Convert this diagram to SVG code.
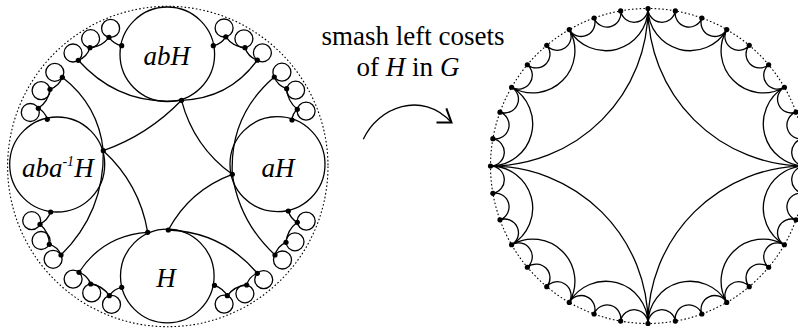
<svg xmlns="http://www.w3.org/2000/svg" width="798" height="330" viewBox="0 0 798 330">
<style>
.bd{fill:none;stroke:#000;stroke-width:1.1;stroke-dasharray:1.6 2.2}
.ln{fill:none;stroke:#000;stroke-width:1.3}
.cs{fill:none;stroke:#000;stroke-width:1.3}
.dt{fill:#000}
.lb{font-family:"Liberation Serif","Times New Roman",serif;font-style:italic;font-size:27px;fill:#000}
.cap{font-family:"Liberation Serif","Times New Roman",serif;font-size:27px;fill:#000}
</style>
<defs>
<marker id="ah" markerUnits="userSpaceOnUse" viewBox="-16 -12 20 24" markerWidth="20" markerHeight="24" refX="0" refY="0" orient="35" overflow="visible">
<path d="M-12.3,-8.6 L0,0 L-12.3,8.6" fill="none" stroke="#000" stroke-width="2"/>
</marker>
</defs>

<!-- LEFT DISK -->
<circle id="left-boundary" class="bd" cx="167.8" cy="166.5" r="160.2"/>

<g id="left-connectors" class="ln">
<path d="M103.3,150.7 Q148,135 181.5,100.3"/>
<path d="M181.5,100.3 Q193.8,146.7 232.3,174.3"/>
<path d="M232.3,174.3 Q189.8,190 168.3,230"/>
<path d="M103.3,150.7 Q139.6,183.9 147.7,232.3"/>
<path d="M78.3,60.3 Q119.8,106.7 181.5,100.3"/>
<path d="M257.3,60.2 Q229.4,98.7 181.5,100.3"/>
<path d="M62.3,77.3 Q98.5,105.2 103.3,150.7"/>
<path d="M274.3,77 Q229.5,115.4 232.3,174.3"/>
<path d="M275,255 Q239.5,222.1 232.3,174.3"/>
<path d="M257.3,273.3 Q222.4,232 168.3,230"/>
<path d="M79,272.3 Q103.3,235.1 147.7,232.3"/>
<path d="M61,255 Q104.4,212 103.3,150.7"/>
<path d="M121.7,45.7 Q113.7,44 109,37.3 Q101.9,46.9 90,47.7 Q87.1,56.7 78.3,60.3"/>
<path d="M47.3,119.3 Q45.1,111.9 38.3,108.3 Q48.4,101.4 50,89.3 Q59,86.2 62.3,77.3"/>
<path d="M213.3,45.7 Q221.3,44 225.8,36.8 Q233.1,46.9 245,47.7 Q247.9,56.7 257.3,60.2"/>
<path d="M292,120 Q292.5,113.6 297.3,109.3 Q287.6,101.3 286.7,88.7 Q277.7,85.8 274.3,77"/>
<path d="M288.3,211 Q290.4,218.5 297.3,222.3 Q287.3,229.8 286,242.3 Q277.5,246 275,255"/>
<path d="M214.5,285.3 Q222.8,288.2 227.3,295.7 Q234.6,286 246.7,285 Q249,276.5 257.3,273.3"/>
<path d="M121.7,287.3 Q113.8,289 109.3,295.7 Q102.7,285.6 90.7,284 Q87.7,275.3 79,272.3"/>
<path d="M50.7,212 Q47.6,220.1 40,224.3 Q49.2,232.2 49.3,244.3 Q57.8,246.7 61,255"/>
</g>

<g id="coset-abH">
<circle class="cs" cx="167.3" cy="54.3" r="47.3"/>
<text class="lb" x="166.7" y="65" text-anchor="middle">abH</text>
</g>
<g id="coset-aH">
<circle class="cs" cx="277.5" cy="164.2" r="47.5"/>
<text class="lb" x="278" y="176.7" text-anchor="middle">aH</text>
</g>
<g id="coset-H">
<circle class="cs" cx="167.3" cy="276" r="46.8"/>
<text class="lb" x="166" y="287" text-anchor="middle">H</text>
</g>
<g id="coset-abaH">
<circle class="cs" cx="57.2" cy="164.5" r="47.5"/>
<text class="lb" x="57.8" y="176.7" text-anchor="middle">aba<tspan font-size="14" dy="-11">-1</tspan><tspan dy="11">H</tspan></text>
</g>

<g id="small-cosets" class="cs">
<circle cx="110.6" cy="28.4" r="9"/><circle cx="90.6" cy="38.7" r="9"/><circle cx="73" cy="53" r="9"/>
<circle cx="30.3" cy="112.5" r="9"/><circle cx="41.1" cy="90.6" r="9"/><circle cx="54.8" cy="72.3" r="9"/>
<circle cx="224.1" cy="28" r="9"/><circle cx="243.9" cy="38.8" r="9"/><circle cx="262.4" cy="52.8" r="9"/>
<circle cx="306.1" cy="111.1" r="9"/><circle cx="295.6" cy="90.2" r="9"/><circle cx="281.9" cy="72.2" r="9"/>
<circle cx="306.2" cy="221.1" r="9"/><circle cx="295" cy="241.8" r="9"/><circle cx="282.5" cy="260" r="9"/>
<circle cx="224.1" cy="304.1" r="9"/><circle cx="244.9" cy="293.8" r="9"/><circle cx="263.7" cy="279.7" r="9"/>
<circle cx="111.5" cy="304.4" r="9"/><circle cx="91.7" cy="292.9" r="9"/><circle cx="73.1" cy="279.1" r="9"/>
<circle cx="31.7" cy="220.7" r="9"/><circle cx="41.1" cy="240.5" r="9"/><circle cx="53.1" cy="259.3" r="9"/>
</g>

<g id="left-vertices" class="dt">
<circle cx="103.3" cy="150.7" r="2.6"/><circle cx="181.5" cy="100.3" r="2.6"/><circle cx="232.3" cy="174.3" r="2.6"/>
<circle cx="168.3" cy="230" r="2.6"/><circle cx="147.7" cy="232.3" r="2.6"/>
<circle cx="121.7" cy="45.7" r="2.6"/><circle cx="109" cy="37.3" r="2.6"/><circle cx="90" cy="47.7" r="2.6"/><circle cx="78.3" cy="60.3" r="2.6"/>
<circle cx="47.3" cy="119.3" r="2.6"/><circle cx="38.3" cy="108.3" r="2.6"/><circle cx="50" cy="89.3" r="2.6"/><circle cx="62.3" cy="77.3" r="2.6"/>
<circle cx="213.3" cy="45.7" r="2.6"/><circle cx="225.8" cy="36.8" r="2.6"/><circle cx="245" cy="47.7" r="2.6"/><circle cx="257.3" cy="60.2" r="2.6"/>
<circle cx="292" cy="120" r="2.6"/><circle cx="297.3" cy="109.3" r="2.6"/><circle cx="286.7" cy="88.7" r="2.6"/><circle cx="274.3" cy="77" r="2.6"/>
<circle cx="288.3" cy="211" r="2.6"/><circle cx="297.3" cy="222.3" r="2.6"/><circle cx="286" cy="242.3" r="2.6"/><circle cx="275" cy="255" r="2.6"/>
<circle cx="214.5" cy="285.3" r="2.6"/><circle cx="227.3" cy="295.7" r="2.6"/><circle cx="246.7" cy="285" r="2.6"/><circle cx="257.3" cy="273.3" r="2.6"/>
<circle cx="121.7" cy="287.3" r="2.6"/><circle cx="109.3" cy="295.7" r="2.6"/><circle cx="90.7" cy="284" r="2.6"/><circle cx="79" cy="272.3" r="2.6"/>
<circle cx="50.7" cy="212" r="2.6"/><circle cx="40" cy="224.3" r="2.6"/><circle cx="49.3" cy="244.3" r="2.6"/><circle cx="61" cy="255" r="2.6"/>
</g>

<!-- CAPTION AND ARROW -->
<g id="caption">
<text class="cap" x="413" y="45" text-anchor="middle">smash left cosets</text>
<text class="cap" x="408" y="76" text-anchor="middle">of <tspan font-style="italic">H</tspan> in <tspan font-style="italic">G</tspan></text>
</g>
<g id="arrow-connector">
<path class="ln" stroke-width="2" d="M363.3,139.3 C378,107 422,90 451.5,122.5" marker-end="url(#ah)"/>
</g>

<!-- RIGHT DISK -->
<circle id="right-boundary" class="bd" cx="648" cy="166" r="157.5"/>

<g id="right-connectors" class="ln">
<path d="M805.5,166 A157.5,157.5 0 0 1 648,8.5 A157.5,157.5 0 0 1 490.5,166 A157.5,157.5 0 0 1 648,323.5 A157.5,157.5 0 0 1 805.5,166"/>
<path d="M805.5,166 A42.2,42.2 0 0 1 784.4,87.25 A42.2,42.2 0 0 1 726.75,29.6 A42.2,42.2 0 0 1 648,8.5 A42.2,42.2 0 0 1 569.25,29.6 A42.2,42.2 0 0 1 511.6,87.25 A42.2,42.2 0 0 1 490.5,166 A42.2,42.2 0 0 1 511.6,244.75 A42.2,42.2 0 0 1 569.25,302.4 A42.2,42.2 0 0 1 648,323.5 A42.2,42.2 0 0 1 726.75,302.4 A42.2,42.2 0 0 1 784.4,244.75 A42.2,42.2 0 0 1 805.5,166"/>
<path d="M805.5,166 A13.78,13.78 0 0 1 803.11,138.65 A13.78,13.78 0 0 1 796,112.13 A13.78,13.78 0 0 1 784.4,87.25 A13.78,13.78 0 0 1 768.65,64.76 A13.78,13.78 0 0 1 749.24,45.35 A13.78,13.78 0 0 1 726.75,29.6 A13.78,13.78 0 0 1 701.87,18 A13.78,13.78 0 0 1 675.35,10.89 A13.78,13.78 0 0 1 648,8.5 A13.78,13.78 0 0 1 620.65,10.89 A13.78,13.78 0 0 1 594.13,18 A13.78,13.78 0 0 1 569.25,29.6 A13.78,13.78 0 0 1 546.76,45.35 A13.78,13.78 0 0 1 527.35,64.76 A13.78,13.78 0 0 1 511.6,87.25 A13.78,13.78 0 0 1 500,112.13 A13.78,13.78 0 0 1 492.89,138.65 A13.78,13.78 0 0 1 490.5,166 A13.78,13.78 0 0 1 492.89,193.35 A13.78,13.78 0 0 1 500,219.87 A13.78,13.78 0 0 1 511.6,244.75 A13.78,13.78 0 0 1 527.35,267.24 A13.78,13.78 0 0 1 546.76,286.65 A13.78,13.78 0 0 1 569.25,302.4 A13.78,13.78 0 0 1 594.13,314 A13.78,13.78 0 0 1 620.65,321.11 A13.78,13.78 0 0 1 648,323.5 A13.78,13.78 0 0 1 675.35,321.11 A13.78,13.78 0 0 1 701.87,314 A13.78,13.78 0 0 1 726.75,302.4 A13.78,13.78 0 0 1 749.24,286.65 A13.78,13.78 0 0 1 768.65,267.24 A13.78,13.78 0 0 1 784.4,244.75 A13.78,13.78 0 0 1 796,219.87 A13.78,13.78 0 0 1 803.11,193.35 A13.78,13.78 0 0 1 805.5,166"/>
</g>

<g id="right-vertices" class="dt">
<circle cx="805.5" cy="166" r="2.6"/><circle cx="803.11" cy="138.65" r="2.6"/><circle cx="796" cy="112.13" r="2.6"/><circle cx="784.4" cy="87.25" r="2.6"/>
<circle cx="768.65" cy="64.76" r="2.6"/><circle cx="749.24" cy="45.35" r="2.6"/><circle cx="726.75" cy="29.6" r="2.6"/><circle cx="701.87" cy="18" r="2.6"/>
<circle cx="675.35" cy="10.89" r="2.6"/><circle cx="648" cy="8.5" r="2.6"/><circle cx="620.65" cy="10.89" r="2.6"/><circle cx="594.13" cy="18" r="2.6"/>
<circle cx="569.25" cy="29.6" r="2.6"/><circle cx="546.76" cy="45.35" r="2.6"/><circle cx="527.35" cy="64.76" r="2.6"/><circle cx="511.6" cy="87.25" r="2.6"/>
<circle cx="500" cy="112.13" r="2.6"/><circle cx="492.89" cy="138.65" r="2.6"/><circle cx="490.5" cy="166" r="2.6"/><circle cx="492.89" cy="193.35" r="2.6"/>
<circle cx="500" cy="219.87" r="2.6"/><circle cx="511.6" cy="244.75" r="2.6"/><circle cx="527.35" cy="267.24" r="2.6"/><circle cx="546.76" cy="286.65" r="2.6"/>
<circle cx="569.25" cy="302.4" r="2.6"/><circle cx="594.13" cy="314" r="2.6"/><circle cx="620.65" cy="321.11" r="2.6"/><circle cx="648" cy="323.5" r="2.6"/>
<circle cx="675.35" cy="321.11" r="2.6"/><circle cx="701.87" cy="314" r="2.6"/><circle cx="726.75" cy="302.4" r="2.6"/><circle cx="749.24" cy="286.65" r="2.6"/>
<circle cx="768.65" cy="267.24" r="2.6"/><circle cx="784.4" cy="244.75" r="2.6"/><circle cx="796" cy="219.87" r="2.6"/><circle cx="803.11" cy="193.35" r="2.6"/>
</g>
</svg>
